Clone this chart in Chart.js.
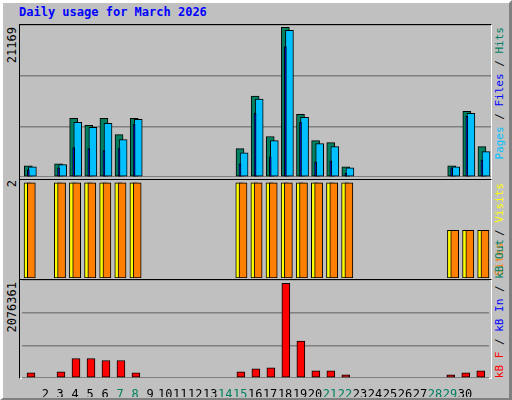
<!DOCTYPE html>
<html><head><meta charset="utf-8">
<script src="https://cdn.jsdelivr.net/npm/chart.js@4"></script>
<style>
body{margin:0;width:512px;height:400px;overflow:hidden;font-family:"DejaVu Sans Mono",monospace;}
#frame{position:absolute;left:0;top:0;background:#c0c0c0;border-top:3px solid #fff;border-left:3px solid #fff;border-right:3px solid #808080;border-bottom:2px solid #808080;box-sizing:border-box;width:512px;height:400px;}
.panel{position:absolute;left:19px;width:473px;border-top:1px solid #000;border-left:1px solid #000;border-bottom:1px solid #fff;border-right:1px solid #fff;box-sizing:border-box;}
.cv{position:absolute;left:20px;width:471px;}
.v{position:absolute;writing-mode:vertical-rl;transform:rotate(180deg);font-size:11px;white-space:nowrap;line-height:13px;}
#title{position:absolute;left:19px;top:5px;font-size:12px;font-weight:bold;color:#0000ff;}
</style></head><body>
<div id="frame"></div>
<div id="title">Daily usage for March 2026</div>
<div class="panel" style="top:24px;height:156px"></div>
<div class="panel" style="top:179px;height:101px"></div>
<div class="panel" style="top:279px;height:100px"></div>
<div class="cv" style="top:25px;height:152px"><canvas id="c1"></canvas></div>
<div class="cv" style="top:180px;height:98px"><canvas id="c2"></canvas></div>
<div class="cv" style="top:280px;height:117px"><canvas id="c3"></canvas></div>
<div class="v" style="left:6px;top:27px;color:#000;font-size:12px">21169</div>
<div class="v" style="left:6px;top:180px;color:#000;font-size:12px">2</div>
<div class="v" style="left:6px;top:282px;color:#000;font-size:12px">2076361</div>
<div class="v" style="left:493px;top:27px"><span style="color:#00c0ff">Pages</span> / <span style="color:#0000ff">Files</span> / <span style="color:#008060">Hits</span></div>
<div class="v" style="left:493px;top:183px"><span style="color:#ff8000">Sites</span> / <span style="color:#ffff00">Visits</span></div>
<div class="v" style="left:493px;bottom:22px"><span style="color:#ff0000">kB F</span> / <span style="color:#0000ff">kB In</span> / <span style="color:#008060">kB Out</span></div>
<script>
const days=[1,2,3,4,5,6,7,8,9,10,11,12,13,14,15,16,17,18,19,20,21,22,23,24,25,26,27,28,29,30,31];
const weekend=[1,7,8,14,15,21,22,28,29];
const hits=[1570,0,1860,8300,7290,8300,6000,8300,0,0,0,0,0,0,4000,11440,5720,21169,8870,5150,4860,1430,0,0,0,0,0,0,1570,9300,4290];
const files=[1430,0,1750,7720,7010,7580,5290,8150,0,0,0,0,0,0,3430,11010,5150,20740,8440,4720,4290,1290,0,0,0,0,0,0,1430,9010,3580];
const pages=[1000,0,1290,4150,4000,3720,4000,7440,0,0,0,0,0,0,1860,9010,2860,18450,7720,2150,2290,570,0,0,0,0,0,0,1290,8580,2430];
const visits=[2,0,2,2,2,2,2,2,0,0,0,0,0,0,2,2,2,2,2,2,2,2,0,0,0,0,0,0,1,1,1];
const sites=[2,0,2,2,2,2,2,2,0,0,0,0,0,0,2,2,2,2,2,2,2,2,0,0,0,0,0,0,1,1,1];
const kbF=[113000,0,135000,428000,428000,383000,383000,113000,0,0,0,0,0,0,135000,203000,225000,2076361,810000,158000,158000,68000,0,0,0,0,0,0,68000,113000,158000];
const XMIN=0.45,XMAX=31.6;
function pts(arr,off){return days.map((d,i)=>({x:d+off,y:arr[i]})).filter(p=>p.y>0);}
function ds(arr,off,color,w){return {data:pts(arr,off),backgroundColor:color,borderColor:'#000',borderWidth:1,barThickness:w,grouped:false,borderSkipped:false};}
function xs(show){return {type:'linear',min:XMIN,max:XMAX,offset:false,display:show,grid:{display:false},border:{display:false},
  afterFit:s=>{if(show)s.height=19;},
  ticks:{stepSize:1,autoSkip:false,maxRotation:0,padding:2,font:{family:'DejaVu Sans Mono',size:12},
  color:c=>weekend.includes(c.tick.value)?'#008060':'#000',callback:v=>Number.isInteger(v)&&v>=1&&v<=31?String(v):''}};}
function ys(max,grid){return {min:0,max:max,display:grid,border:{display:false},ticks:{display:false,stepSize:max/3},
  grid:{color:'#808080',lineWidth:1.5,drawTicks:false}};}
const base={responsive:true,maintainAspectRatio:false,animation:false,plugins:{legend:{display:false},tooltip:{enabled:false}},layout:{padding:0}};
new Chart(document.getElementById('c1'),{type:'bar',data:{datasets:[ds(pages,0.0,'#0000ff',2),ds(files,0.27,'#00c0ff',8),ds(hits,0,'#008060',8)]},
  options:{...base,scales:{x:xs(false),y:ys(21169*1.015,true)}}});
new Chart(document.getElementById('c2'),{type:'bar',data:{datasets:[ds(sites,0.2,'#ff8000',8),ds(visits,-0.05,'#ffff00',7)]},
  options:{...base,scales:{x:xs(false),y:ys(2.06,false)}}});
new Chart(document.getElementById('c3'),{type:'bar',data:{datasets:[ds(kbF,0.05,'#ff0000',8)]},
  options:{...base,scales:{x:xs(true),y:ys(2150000,true)}}});
</script></body></html>
